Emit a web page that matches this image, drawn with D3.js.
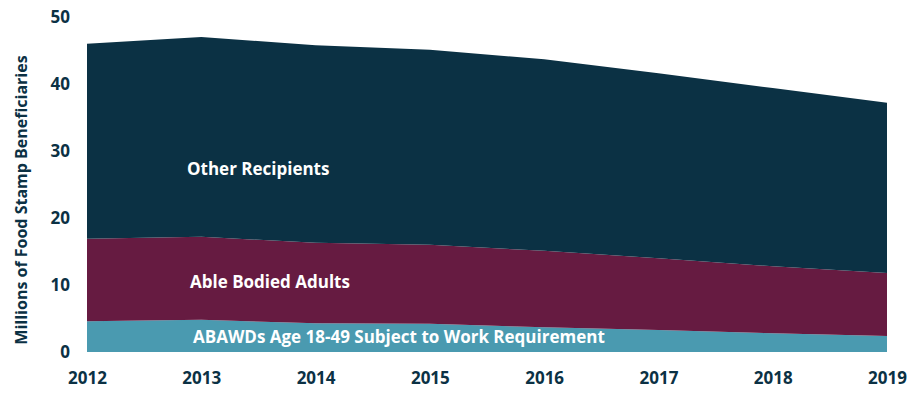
<!DOCTYPE html>
<html><head><meta charset="utf-8">
<script src="https://cdn.jsdelivr.net/npm/d3@7"></script>
<style>body{margin:0;background:#fff}text{font-family:"Open Sans",sans-serif;font-weight:700}</style>
</head><body><svg id="c" width="920" height="406"></svg>
<script>
const years = [2012, 2013, 2014, 2015, 2016, 2017, 2018, 2019];
const abawd = [4.6, 4.8, 4.3, 4.2, 3.7, 3.3, 2.8, 2.4];
const ableBodied = [12.3, 12.4, 12.0, 11.8, 11.4, 10.7, 10.0, 9.4];
const other = [29.1, 29.8, 29.5, 29.1, 28.6, 27.6, 26.6, 25.4];
const seriesNames = ["ABAWDs Age 18-49 Subject to Work Requirement", "Able Bodied Adults", "Other Recipients"];
const colors = ["#4a9ab0", "#661b41", "#0b3144"];
const yTicks = [0, 10, 20, 30, 40, 50];

const svg = d3.select("#c");
const x = d3.scaleLinear().domain([2012, 2019]).range([87, 887]);
const y = d3.scaleLinear().domain([0, 50]).range([352, 17]);

const rows = years.map((yr, i) => ({ yr, a: abawd[i], b: ableBodied[i], c: other[i] }));
const stack = d3.stack().keys(["a", "b", "c"])(rows);
const area = d3.area().x(d => x(d.data.yr)).y0(d => y(d[0])).y1(d => y(d[1]));

svg.selectAll("path.layer").data(stack).join("path")
  .attr("d", area).attr("fill", (d, i) => colors[i]);

const labelPos = [[193, 338], [190, 283], [187, 170]];
svg.selectAll("text.lbl").data(seriesNames).join("text")
  .attr("x", (d, i) => labelPos[i][0]).attr("y", (d, i) => labelPos[i][1])
  .attr("fill", "#fff").attr("font-size", 17).attr("dominant-baseline", "middle").text(d => d);

const yAxis = svg.append("g").attr("transform", "translate(70,0)")
  .call(d3.axisLeft(y).tickValues(yTicks).tickSize(0).tickPadding(0));
yAxis.select(".domain").remove();
yAxis.selectAll("text").attr("fill", "#0b3144").attr("font-size", 17).attr("text-anchor", "end");

const xAxis = svg.append("g").attr("transform", "translate(0,352)")
  .call(d3.axisBottom(x).tickValues(years).tickFormat(d3.format("d")).tickSize(0).tickPadding(20));
xAxis.select(".domain").remove();
xAxis.selectAll("text").attr("fill", "#0b3144").attr("font-size", 17);

svg.append("text").attr("transform", "translate(27,200) rotate(-90)")
  .attr("text-anchor", "middle").attr("fill", "#0b3144").attr("font-size", 16)
  .text("Millions of Food Stamp Beneficiaries");
</script></body></html>
